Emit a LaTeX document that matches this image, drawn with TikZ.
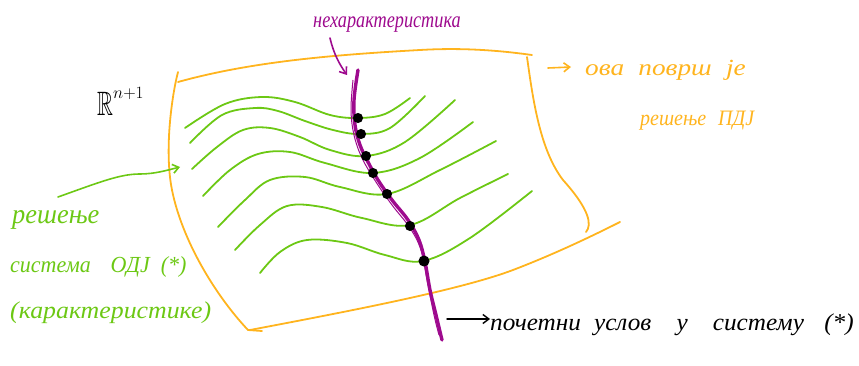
\documentclass[tikz,border=0pt]{standalone}
\usepackage{amssymb}
\usepackage{fontspec}
\setmainfont{Liberation Serif}
\usetikzlibrary{arrows.meta}
\definecolor{surf}{HTML}{FFB41E}
\definecolor{charc}{HTML}{6CC814}
\definecolor{nonc}{HTML}{9E0A8E}
\tikzset{
  surfline/.style={draw=surf, line width=1.8pt, line cap=round, line join=round},
  charline/.style={draw=charc, line width=1.8pt, line cap=round},
  noncline/.style={draw=nonc, line width=3.4pt, line cap=round},
  pt/.style={circle, fill=black, draw=black, line width=1pt, minimum size=9pt, inner sep=0pt},
  hand/.style={font=\itshape, anchor=base west, inner sep=0pt},
  barb/.style={-{Straight Barb[length=6pt, width=9pt]}, line width=1.6pt, line cap=round}
}
\begin{document}
\begin{tikzpicture}[x=1pt, y=-1pt]
\useasboundingbox (0,0) rectangle (859,366);

% surface
\draw[surfline] (178,82) .. controls (250,62) and (330,55) .. (420,50) .. controls (470,47) and (510,52) .. (532,55);
\draw[surfline] (178,72) .. controls (172,95) and (164,150) .. (172,190)
  .. controls (182,240) and (215,295) .. (248,330) -- (262,331);
\draw[surfline] (250,330) .. controls (350,311) and (460,290) .. (513,270)
  .. controls (560,252) and (600,232) .. (620,222);
\draw[surfline] (527,57) .. controls (533,100) and (540,150) .. (563,180)
  .. controls (590,210) and (592,225) .. (586,232);

% characteristics
\draw[charline] plot[smooth, tension=0.6] coordinates {(185,128) (225,104) (262,97) (295,102) (330,115) (358,118) (385,114) (410,98)};
\draw[charline] plot[smooth, tension=0.6] coordinates {(190,143) (222,115) (255,108) (278,111) (305,121) (333,130) (360,134) (390,128) (425,96)};
\draw[charline] plot[smooth, tension=0.6] coordinates {(192,169) (217,147) (243,130) (270,128) (300,137) (330,150) (366,156) (405,142) (455,100)};
\draw[charline] plot[smooth, tension=0.6] coordinates {(203,196) (230,170) (258,154) (290,152) (325,163) (373,173) (420,158) (473,122)};
\draw[charline] plot[smooth, tension=0.6] coordinates {(218,227) (245,200) (270,180) (305,177) (340,187) (387,194) (440,170) (496,141)};
\draw[charline] plot[smooth, tension=0.6] coordinates {(235,250) (260,225) (287,206) (322,207) (362,218) (410,225) (460,198) (508,174)};
\draw[charline] plot[smooth, tension=0.6] coordinates {(260,273) (280,252) (307,240) (347,243) (385,255) (423,261) (470,238) (532,191)};

% non-characteristic curve
\draw[noncline] plot[smooth, tension=0.6] coordinates {(358,70) (354,100) (355,125) (360,145) (368,162) (378,180) (392,200) (408,220) (419,240) (425,262) (430,290) (436,315) (442,340)};
\draw[draw=nonc, line width=1pt] plot[smooth, tension=0.6] coordinates {(353,80) (351,110) (354,135) (362,158) (376,182) (392,205) (410,228) (421,250) (427,280) (434,315) (439,335)};

% points of the initial condition
\node[pt] (p1) at (358,118) {};
\node[pt] (p2) at (361,134) {};
\node[pt] (p3) at (366,156) {};
\node[pt] (p4) at (373,173) {};
\node[pt] (p5) at (387,194) {};
\node[pt] (p6) at (410,226) {};
\node[pt, minimum size=10pt] (p7) at (424,261) {};

% labels
\node[hand, text=nonc, font=\itshape\fontsize{19}{21}\selectfont] (nk) at (313,28) {\scalebox{0.96}[1.2]{нехарактеристика}};
\coordinate (nktip) at (347,75);
\draw[barb, draw=nonc] (330,38) .. controls (334,55) and (340,65) .. (nktip);

\node[hand, text=black, font=\fontsize{26}{28}\selectfont] (rn) at (97,116) {\scalebox{0.85}[1.3]{$\mathbb{R}$}\raisebox{17pt}{\fontsize{17}{17}\selectfont$n{+}1$}};

\node[hand, text=surf, font=\itshape\fontsize{21}{23}\selectfont] (sf1) at (585,76) {\scalebox{1.3}[1.1]{ова\hspace{11pt}површ\hspace{11pt}је}};
\node[hand, text=surf, font=\itshape\fontsize{20}{22}\selectfont] (sf2) at (640,126) {\scalebox{1}[1.1]{решење\hspace{12pt}ПДЈ}};
\coordinate (sfa) at (548,68);
\coordinate (sfb) at (571,67);
\draw[barb, draw=surf] (sfa) -- (sfb);

\node[hand, text=charc, font=\itshape\fontsize{24}{26}\selectfont] (ch1) at (12,223) {\scalebox{1.1}[1.15]{решење}};
\node[hand, text=charc, font=\itshape\fontsize{20}{22}\selectfont] (ch2) at (10,272) {\scalebox{1.1}[1.15]{система\hspace{18pt}ОДЈ\hspace{10pt}(*)}};
\node[hand, text=charc, font=\itshape\fontsize{21}{23}\selectfont] (ch3) at (10,318) {\scalebox{1.23}[1.15]{(карактеристике)}};
\coordinate (chs) at (58,197);
\coordinate (cht) at (180,167);
\draw[barb, draw=charc] (chs) .. controls (100,182) and (120,174) .. (140,174) .. controls (155,174) and (168,170) .. (cht);

\node[hand, text=black, font=\itshape\fontsize{21}{23}\selectfont] (ic) at (490,330) {\scalebox{1.2}[1.15]{почетни\hspace{11pt}услов\hspace{21pt}у\hspace{21pt}систему\hspace{17pt}(*)}};
\coordinate (ics) at (447,319);
\draw[barb, draw=black, line width=1.4pt] (ics) -- (ic.west |- 0,319);
\end{tikzpicture}
\end{document}
